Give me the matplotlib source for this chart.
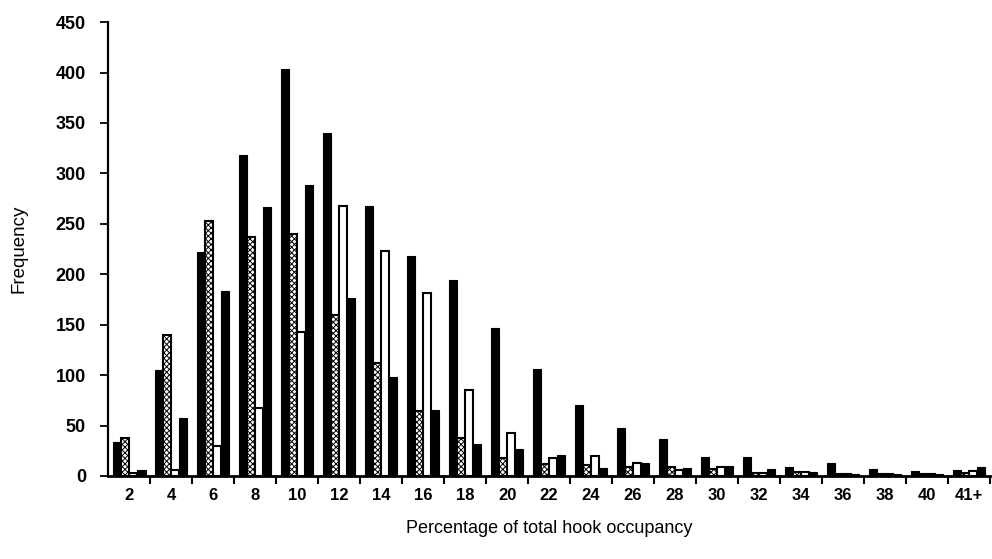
import numpy as np
import matplotlib.pyplot as plt

plt.rcParams['font.family'] = ['Liberation Sans', 'DejaVu Sans']
plt.rcParams['hatch.linewidth'] = 0.7

# Bins of total hook occupancy (%)
categories = ['2', '4', '6', '8', '10', '12', '14', '16', '18', '20', '22',
              '24', '26', '28', '30', '32', '34', '36', '38', '40', '41+']

# Frequencies for the four series in each bin
series_a = [34, 105, 222, 318, 403, 340, 268, 218, 194, 147, 106,
            70, 48, 37, 19, 19, 9, 13, 7, 5, 6]
series_b = [38, 140, 253, 237, 240, 160, 112, 64, 38, 18, 12,
            11, 9, 9, 7, 3, 4, 2, 2, 2, 3]
series_c = [3, 6, 30, 67, 143, 268, 223, 181, 85, 43, 18,
            20, 13, 6, 9, 3, 4, 2, 2, 2, 5]
series_d = [6, 57, 183, 267, 288, 176, 98, 65, 32, 27, 21,
            8, 13, 8, 10, 7, 4, 2, 2, 2, 9]

x = np.arange(len(categories))
w = 0.195

fig = plt.figure(figsize=(9.92, 5.59), dpi=100)
ax = fig.add_axes([0.109, 0.1485, 0.889, 0.812])

ax.bar(x - 1.5 * w, series_a, w, color='black', edgecolor='black', linewidth=0.8)
ax.bar(x - 0.5 * w, series_b, w, color='white', edgecolor='black',
       linewidth=1.5, hatch='xxxxxx')
ax.bar(x + 0.5 * w, series_c, w, color='white', edgecolor='black', linewidth=1.5)
ax.bar(x + 1.5 * w, series_d, w, color='black', edgecolor='black', linewidth=0.8)

ax.set_xlim(-0.5, len(categories) - 0.5)
ax.set_ylim(0, 450)
ax.set_yticks(np.arange(0, 451, 50))

# labels sit under the bin centres, tick marks sit on the bin edges
ax.set_xticks(x)
ax.set_xticklabels(categories)
ax.tick_params(axis='x', which='major', length=0, pad=9, labelsize=12)
ax.set_xticks(np.arange(0.5, len(categories), 1.0), minor=True)
ax.tick_params(axis='x', which='minor', length=6, width=1.5, direction='out')
ax.tick_params(axis='y', length=6, width=1.3, direction='out', pad=10, labelsize=13)

for lab in ax.get_xticklabels() + ax.get_yticklabels():
    lab.set_fontweight('bold')

ax.spines['top'].set_visible(False)
ax.spines['right'].set_visible(False)
ax.spines['left'].set_linewidth(1.6)
ax.spines['bottom'].set_linewidth(2.0)

ax.set_xlabel('Percentage of total hook occupancy', fontsize=13, labelpad=12)
ax.set_ylabel('Frequency', fontsize=13.5, labelpad=20)

fig.savefig('out.png', dpi=100)
